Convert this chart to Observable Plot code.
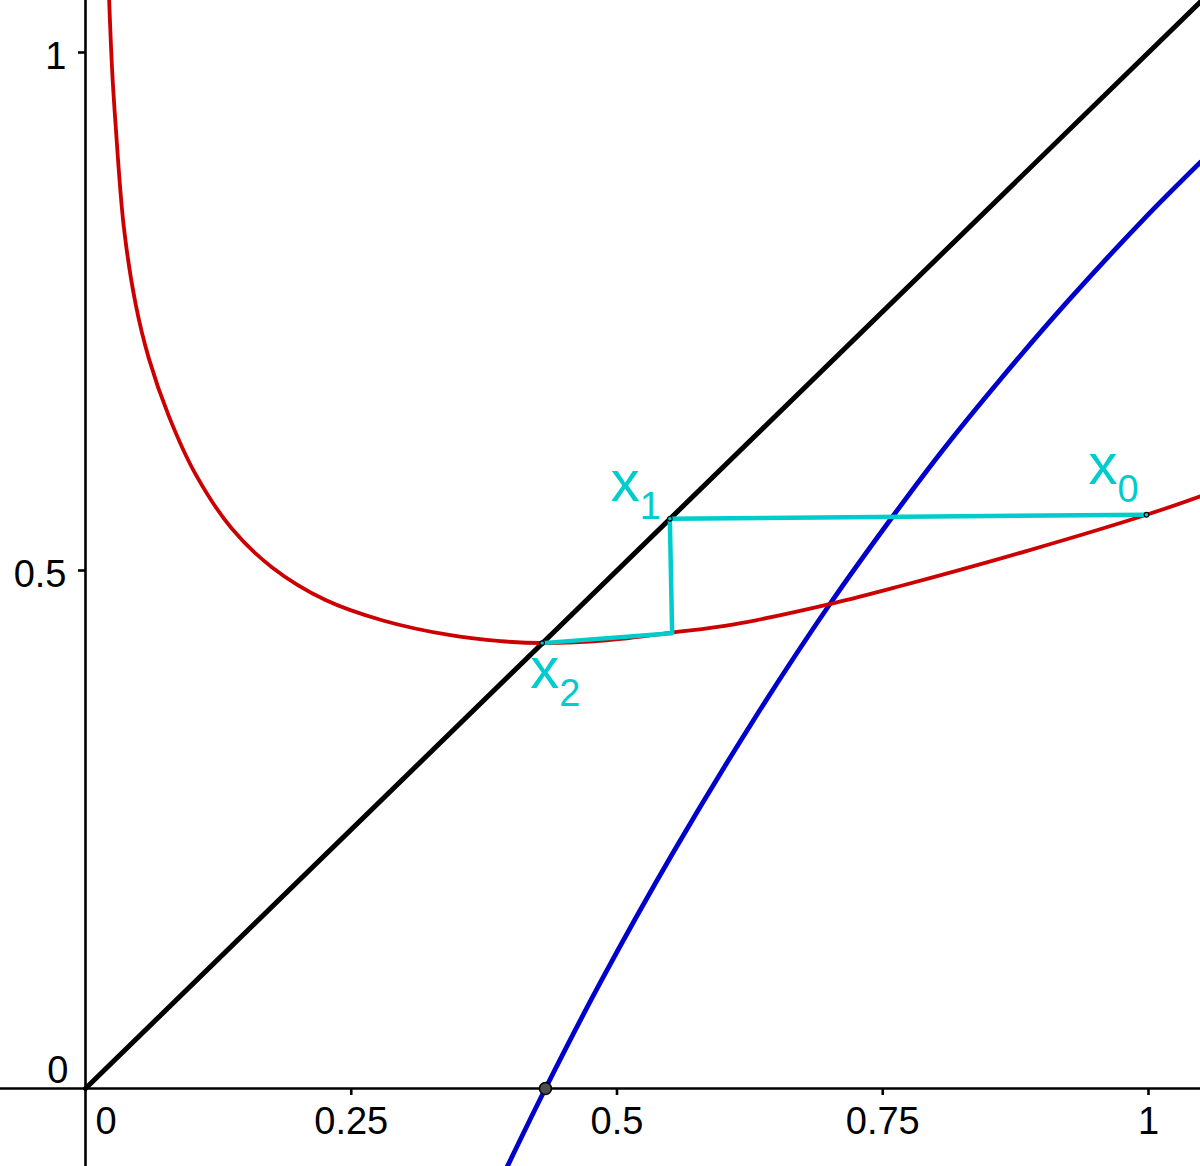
<!DOCTYPE html>
<html><head><meta charset="utf-8">
<script src="https://cdn.jsdelivr.net/npm/d3@7"></script>
<script src="https://cdn.jsdelivr.net/npm/@observablehq/plot@0.6"></script>
<style>html,body{margin:0;padding:0;background:#fff;overflow:hidden}</style>
</head><body><div id="chart"></div>
<script>
// Red curve (iteration function)
const redX = [0.0222, 0.0251, 0.0282, 0.036, 0.047, 0.0595, 0.0784, 0.1035, 0.138, 0.1756, 0.2258, 0.2806, 0.3434, 0.3904, 0.4296, 0.49, 0.5519, 0.610, 0.704, 0.7667, 0.8859, 0.9981, 1.0489];
const redY = [1.052, 0.982, 0.932, 0.832, 0.758, 0.705, 0.649, 0.593, 0.540, 0.503, 0.4715, 0.4515, 0.4375, 0.4318, 0.4300, 0.4325, 0.4400, 0.448, 0.4685, 0.485, 0.519, 0.5538, 0.5717];
// Blue curve (function)
const blueX = [0.3967, 0.4327, 0.4845, 0.5534, 0.6287, 0.7008, 0.7604, 0.8044, 0.8608, 0.9235, 0.9956, 1.0489];
const blueY = [-0.0756, 0, 0.1026, 0.2287, 0.3560, 0.4684, 0.5536, 0.6135, 0.6846, 0.7592, 0.8392, 0.8941];
// Identity line y = x
const diagX = [0, 1.049];
// Cobweb path (cyan)
const webX = [0.9981, 0.5497, 0.5519, 0.4296];
const webY = [0.5538, 0.5499, 0.4395, 0.4299];
// Iterates x0, x1, x2
const iterNames = ["0", "1", "2"];
const iterX = [0.9981, 0.5497, 0.4296];
const iterY = [0.5538, 0.5499, 0.4299];
// Root of the blue curve
const rootX = [0.4327];
const rootY = [0];
// Ticks
const xTicks = [0, 0.25, 0.5, 0.75, 1];
const xTickLabels = ["0", "0.25", "0.5", "0.75", "1"];
const yTicks = [0, 0.5, 1];
const yTickLabels = ["0", "0.5", "1"];

const red = redX.map((x, i) => ({x, y: redY[i]}));
const blue = blueX.map((x, i) => ({x, y: blueY[i]}));
const web = webX.map((x, i) => ({x, y: webY[i]}));
const iters = iterX.map((x, i) => ({x, y: iterY[i], name: iterNames[i]}));
const roots = rootX.map((x, i) => ({x, y: rootY[i]}));
const xt = xTicks.map((v, i) => ({v, label: xTickLabels[i]}));
const yt = yTicks.map((v, i) => ({v, label: yTickLabels[i]}));

const CYAN = "#00cccc";
const FONT = "'Liberation Sans', Arial, sans-serif";

function iterLabel(k, dx, dy) {
  const d = [iters[k]];
  return [
    Plot.text(d, {x: "x", y: "y", text: () => "x", fill: CYAN, fontSize: 58, textAnchor: "start", lineAnchor: "bottom", dx, dy}),
    Plot.text(d, {x: "x", y: "y", text: "name", fill: CYAN, fontSize: 38, textAnchor: "start", lineAnchor: "bottom", dx: dx + 29, dy: dy + 18})
  ];
}

const chart = Plot.plot({
  width: 1200,
  height: 1166,
  margin: 0,
  style: {fontFamily: FONT, background: "white"},
  x: {domain: [-0.07996, 1.04892], axis: null},
  y: {domain: [-0.07529, 1.05019], axis: null},
  marks: [
    Plot.ruleY([0], {stroke: "black", strokeWidth: 2.6}),
    Plot.ruleX([0], {stroke: "black", strokeWidth: 2.6}),
    Plot.ruleX(xt.filter(d => d.v !== 0), {x: "v", y1: () => 0, y2: () => 0, insetBottom: -7, stroke: "black", strokeWidth: 2.6}),
    Plot.ruleY(yt.filter(d => d.v !== 0), {y: "v", x1: () => 0, x2: () => 0, insetLeft: -7, stroke: "black", strokeWidth: 2.6}),
    Plot.text(xt.filter(d => d.v !== 0), {x: "v", y: () => 0, text: "label", fontSize: 38, textAnchor: "middle", lineAnchor: "bottom", dy: 46, fill: "black"}),
    Plot.text(xt.filter(d => d.v === 0), {x: "v", y: () => 0, text: "label", fontSize: 38, textAnchor: "start", lineAnchor: "bottom", dx: 10, dy: 46, fill: "black"}),
    Plot.text(yt.filter(d => d.v !== 0), {x: () => 0, y: "v", text: "label", fontSize: 38, textAnchor: "end", lineAnchor: "bottom", dx: -19, dy: 17, fill: "black"}),
    Plot.text(yt.filter(d => d.v === 0), {x: () => 0, y: "v", text: "label", fontSize: 38, textAnchor: "end", lineAnchor: "bottom", dx: -17, dy: -5, fill: "black"}),
    Plot.line(diagX, {x: d => d, y: d => d, stroke: "black", strokeWidth: 5}),
    Plot.line(blue, {x: "x", y: "y", stroke: "#0000cc", strokeWidth: 4.8, curve: "catmull-rom"}),
    Plot.line(red, {x: "x", y: "y", stroke: "#cc0000", strokeWidth: 3.8, curve: "catmull-rom"}),
    Plot.line(web, {x: "x", y: "y", stroke: CYAN, strokeWidth: 4.5, strokeLinejoin: "miter"}),
    Plot.dot(roots, {x: "x", y: "y", r: 6, fill: "#4d4d4d", stroke: "black", strokeWidth: 1.5}),
    Plot.dot(iters, {x: "x", y: "y", r: 2.3, fill: CYAN, stroke: "black", strokeWidth: 1.2}),
    ...iterLabel(0, -58, -31),
    ...iterLabel(1, -59, -18),
    ...iterLabel(2, -12, 45)
  ]
});
document.getElementById("chart").appendChild(chart);
</script>
</body></html>
